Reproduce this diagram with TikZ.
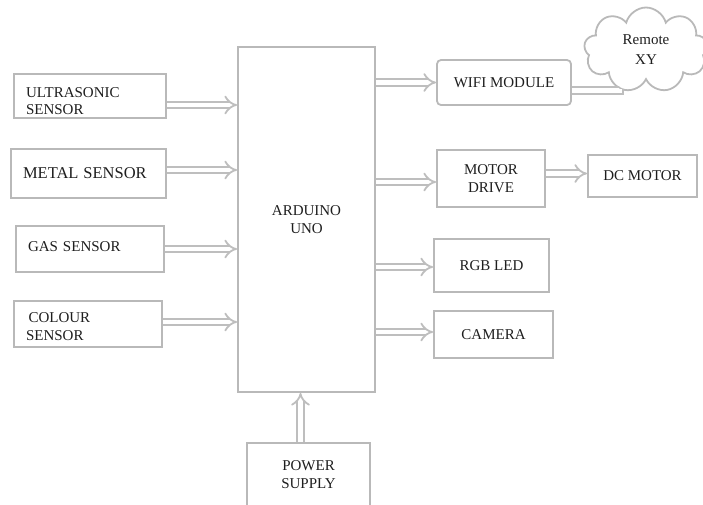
\documentclass[tikz,border=0pt]{standalone}
\usepackage{fontspec}
\setmainfont{Liberation Serif}
\usetikzlibrary{arrows.meta,positioning,calc,shapes.symbols}
\definecolor{boxline}{HTML}{B9B9B9}
\definecolor{linkline}{HTML}{BEBEBE}
\definecolor{inktext}{HTML}{1E1E1E}

\begin{document}
\begin{tikzpicture}[x=1pt,y=-1pt,font=\fontsize{15}{18}\selectfont,text=inktext,
 blk/.style={draw=boxline,line width=1.8pt,inner sep=0pt},
 rail/.style={draw=linkline,line width=1.8pt,double=white,double distance=4.6pt},
 link/.style={rail,-{Implies}}]
\useasboundingbox (0,0) rectangle (703,504);
% sensors on the left
\foreach \nm/\x/\y/\w/\h/\txt in {ultra/90/96/152/44/{\rule{0pt}{20pt}ULTRASONIC\\[-1pt]SENSOR},metal/88.5/173.5/155/49/{\fontsize{16.5}{18}\selectfont METAL SENSOR},gas/90/249/148/46/{GAS SENSOR\rule[-5pt]{0pt}{0pt}},colour/88/324/148/46/{\rule{0pt}{16pt}\,COLOUR\\SENSOR}} {
 \pgfmathsetmacro\tw{\w-24}
 \node[blk,align=left,inner xsep=12pt,text width=\tw pt,minimum width=\w,minimum height=\h] (\nm) at (\x,\y) {\txt};
}
\node[blk,align=center,minimum width=137,minimum height=345] (ard) at (306.5,219.5) {ARDUINO\\UNO};
% outputs on the right
\node[blk,rounded corners=4pt,minimum width=134,minimum height=45] (wifi) at (504,82.5) {WIFI MODULE};
\foreach \nm/\x/\y/\w/\h/\txt in {motor/491/178.5/108/57/{MOTOR\\DRIVE},rgb/491.5/265.5/115/53/{RGB LED},cam/493.5/334.5/119/47/{CAMERA}} {
 \node[blk,align=center,minimum width=\w,minimum height=\h] (\nm) at (\x,\y) {\txt};
}
\node[blk,minimum width=109,minimum height=42] (dcm) at (642.5,176) {DC MOTOR};
\node[blk,align=center,minimum width=123,minimum height=63] (power) at (308.5,474.5) {POWER\\SUPPLY};
\node[draw=boxline,line width=1.8pt,cloud,cloud puffs=9,aspect=1.5,minimum width=124,minimum height=85,align=center,font=\fontsize{15}{20}\selectfont] (cloud) at (646,50) {Remote\\XY};
% connectors
\foreach \s/\dy in {ultra/-9,metal/3.5,gas/0,colour/2} {
 \draw[link] ([yshift=\dy pt]\s.east) -- ([yshift=\dy pt]\s.east -| ard.west);
}
\foreach \t/\dy in {wifi/0,motor/-3.5,rgb/-1.5,cam/2.5} {
 \draw[link] ([yshift=\dy pt]\t.west -| ard.east) -- ([yshift=\dy pt]\t.west);
}
\draw[link] ([yshift=5pt]motor.east) -- ([yshift=5pt]motor.east -| dcm.west);
\draw[link] ([xshift=-8pt]power.north) -- ([xshift=-8pt]power.north |- ard.south);
\draw[rail] ([yshift=-8pt]wifi.east) -| (cloud.236);
\end{tikzpicture}
\end{document}
